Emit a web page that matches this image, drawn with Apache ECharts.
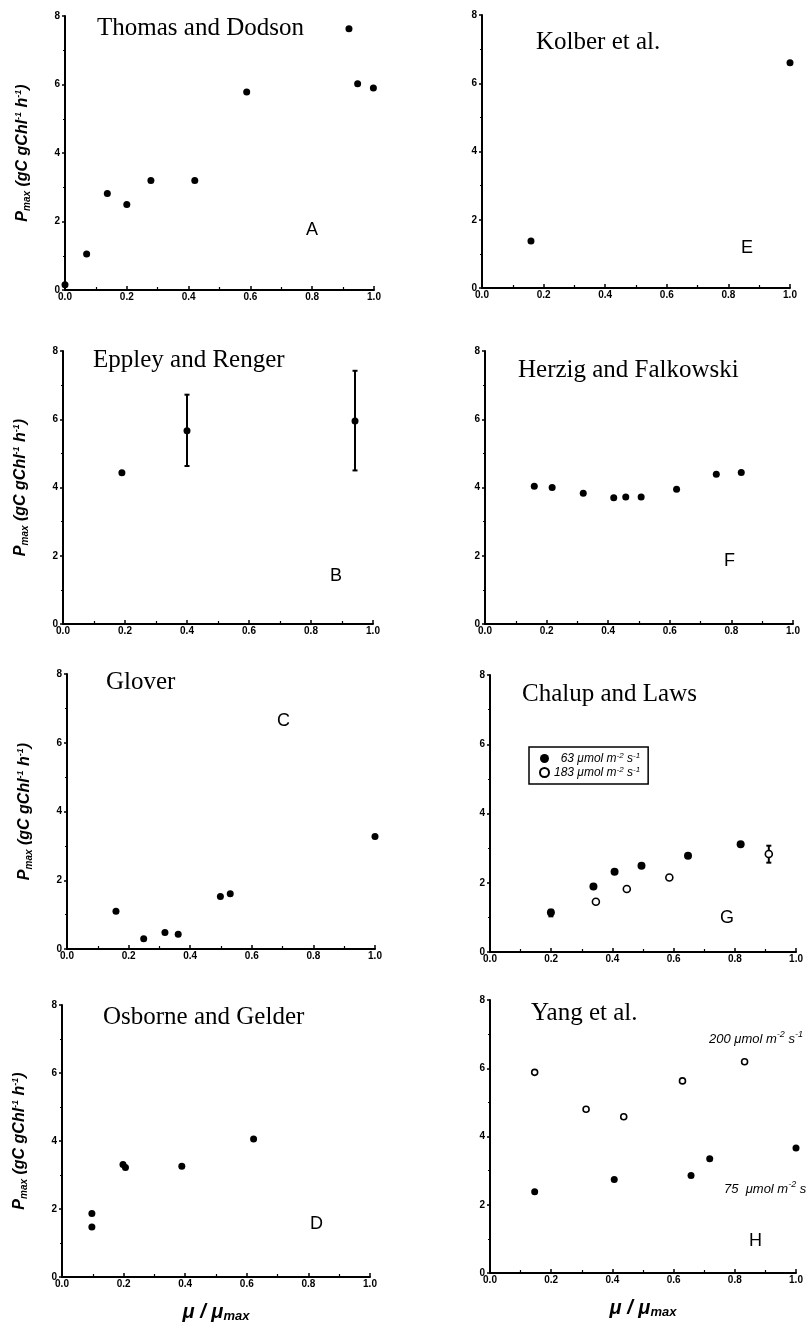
<!DOCTYPE html>
<html>
<head>
<meta charset="utf-8">
<script src="https://cdn.jsdelivr.net/npm/echarts@6/dist/echarts.min.js"></script>
<style>
html,body{margin:0;padding:0;background:#fff;}
#chart{width:806px;height:1324px;}
</style>
</head>
<body>
<div id="chart"></div>
<script>
// ---------- DATA ----------
const xTickLabels = ['0.0', '0.2', '0.4', '0.6', '0.8', '1.0'];
const yTickLabels = ['0', '2', '4', '6', '8'];

const panelTitles = ['Thomas and Dodson', 'Kolber et al.', 'Eppley and Renger', 'Herzig and Falkowski',
                     'Glover', 'Chalup and Laws', 'Osborne and Gelder', 'Yang et al.'];
const panelLetters = ['A', 'E', 'B', 'F', 'C', 'G', 'D', 'H'];

// A: Thomas and Dodson
const thomasDodson = [[0.0, 0.15], [0.07, 1.05], [0.137, 2.82], [0.2, 2.5], [0.278, 3.2], [0.42, 3.2],
                      [0.588, 5.78], [0.919, 7.63], [0.947, 6.02], [0.998, 5.9]];
// E: Kolber et al.
const kolber = [[0.159, 1.38], [1.0, 6.6]];
// B: Eppley and Renger (points, error bars [x, low, high])
const eppley = [[0.19, 4.43], [0.40, 5.66], [0.942, 5.95]];
const eppleyErr = [[0.40, 4.63, 6.72], [0.942, 4.5, 7.42]];
// F: Herzig and Falkowski
const herzig = [[0.16, 4.04], [0.218, 4.0], [0.319, 3.83], [0.418, 3.7], [0.457, 3.72], [0.507, 3.72],
                [0.622, 3.95], [0.751, 4.39], [0.832, 4.44]];
// C: Glover
const glover = [[0.159, 1.1], [0.249, 0.3], [0.318, 0.48], [0.361, 0.43], [0.498, 1.53], [0.53, 1.61], [1.0, 3.27]];
// G: Chalup and Laws
const chalup63 = [[0.199, 1.14], [0.338, 1.89], [0.407, 2.32], [0.495, 2.49], [0.647, 2.78], [0.819, 3.11]];
const chalup183 = [[0.346, 1.45], [0.447, 1.82], [0.586, 2.15], [0.911, 2.83]];
const chalupErr = [[0.199, 1.03, 1.22], [0.911, 2.58, 3.07]];
// D: Osborne and Gelder
const osborne = [[0.097, 1.87], [0.097, 1.47], [0.198, 3.31], [0.206, 3.22], [0.389, 3.26], [0.622, 4.06]];
// H: Yang et al.
const yang200 = [[0.146, 5.88], [0.314, 4.8], [0.437, 4.58], [0.629, 5.63], [0.832, 6.19]];
const yang75 = [[0.146, 2.38], [0.406, 2.74], [0.657, 2.86], [0.718, 3.35], [1.0, 3.66]];

// ---------- LAYOUT ----------
const grids = [
  {left: 65, top: 16, width: 309, height: 274},   // A
  {left: 482, top: 15, width: 308, height: 273},  // E
  {left: 63, top: 351, width: 310, height: 273},  // B
  {left: 485, top: 351, width: 308, height: 273}, // F
  {left: 67, top: 674, width: 308, height: 275},  // C
  {left: 490, top: 675, width: 307, height: 277}, // G
  {left: 62, top: 1005, width: 308, height: 272}, // D
  {left: 490, top: 1000, width: 306, height: 273} // H
];
const titlePos = [[97, 16], [536, 30], [93, 348], [518, 358], [106, 670], [522, 682], [103, 1005], [531, 1001]];
const letterPos = [[306, 221], [741, 239], [330, 567], [724, 552], [277, 712], [720, 909], [310, 1215], [749, 1232]];

const SANS = '"Liberation Sans", Arial, Helvetica, sans-serif';
const SERIF = '"Liberation Serif", "Times New Roman", serif';

const xAxes = grids.map((g, i) => ({
  type: 'value', gridIndex: i, min: 0, max: 1, interval: 0.2,
  name: (i >= 6) ? '{i|μ / μ}{sub|max}' : '',
  nameLocation: 'middle', nameGap: 24,
  nameTextStyle: {
    rich: {
      i: {fontFamily: SANS, fontStyle: 'italic', fontWeight: 'bold', fontSize: 20, color: '#000', lineHeight: 22, verticalAlign: 'middle'},
      sub: {fontFamily: SANS, fontStyle: 'italic', fontWeight: 'bold', fontSize: 13, color: '#000', lineHeight: 13, verticalAlign: 'bottom', padding: [7, 0, 0, 0]}
    }
  },
  axisLine: {lineStyle: {color: '#000', width: 2}},
  axisTick: {inside: true, length: 4, lineStyle: {color: '#000', width: 1.5}},
  minorTick: {show: true, splitNumber: 2, length: 3, lineStyle: {color: '#000', width: 1.2}},
  axisLabel: {color: '#000', fontFamily: SANS, fontWeight: 'bold', fontSize: 10, margin: 2,
              formatter: v => xTickLabels[Math.round(v / 0.2)]},
  splitLine: {show: false}
}));

const yAxes = grids.map((g, i) => ({
  type: 'value', gridIndex: i, min: 0, max: 8, interval: 2,
  name: (i % 2 === 0) ? '{i|P}{sub|max}{i| (gC gChl}{sup|-1}{i| h}{sup|-1}{i|)}' : '',
  nameLocation: 'middle', nameGap: 33, nameRotate: 90,
  nameTextStyle: {
    rich: {
      i: {fontFamily: SANS, fontStyle: 'italic', fontWeight: 'bold', fontSize: 16, color: '#000', lineHeight: 18, verticalAlign: 'middle'},
      sub: {fontFamily: SANS, fontStyle: 'italic', fontWeight: 'bold', fontSize: 10, color: '#000', lineHeight: 10, verticalAlign: 'bottom', padding: [6, 0, 0, 0]},
      sup: {fontFamily: SANS, fontStyle: 'italic', fontWeight: 'bold', fontSize: 9, color: '#000', lineHeight: 9, verticalAlign: 'top', padding: [0, 0, 6, 0]}
    }
  },
  axisLine: {lineStyle: {color: '#000', width: 2}},
  axisTick: {inside: false, length: 3, lineStyle: {color: '#000', width: 1.5}},
  minorTick: {show: true, splitNumber: 2, length: 2, lineStyle: {color: '#000', width: 1.2}},
  axisLabel: {color: '#000', fontFamily: SANS, fontWeight: 'bold', fontSize: 10, margin: 5,
              formatter: v => yTickLabels[Math.round(v / 2)]},
  splitLine: {show: false}
}));

const titles = [];
panelTitles.forEach((t, i) => {
  titles.push({text: t, left: titlePos[i][0], top: titlePos[i][1], padding: 0,
    textStyle: {fontFamily: SERIF, fontWeight: 'normal', fontSize: 25, color: '#000'}});
});
panelLetters.forEach((t, i) => {
  titles.push({text: t, left: letterPos[i][0], top: letterPos[i][1], padding: 0,
    textStyle: {fontFamily: SANS, fontWeight: 'normal', fontSize: 18, color: '#000'}});
});
const annRich = {
  t: {fontFamily: '"Liberation Sans Narrow", ' + SANS, fontStyle: 'italic', fontWeight: 'normal', fontSize: 13, color: '#000', lineHeight: 16, verticalAlign: 'bottom'},
  sup: {fontFamily: '"Liberation Sans Narrow", ' + SANS, fontStyle: 'italic', fontWeight: 'normal', fontSize: 9, color: '#000', lineHeight: 9, verticalAlign: 'top'}
};
titles.push({text: '{t|200 μmol m}{sup|-2}{t| s}{sup|-1}', left: 709, top: 1030, padding: 0, textStyle: {fontWeight: 'normal', rich: annRich}});
titles.push({text: '{t|75  μmol m}{sup|-2}{t| s}{sup|-1}', left: 724, top: 1180, padding: 0, textStyle: {fontWeight: 'normal', rich: annRich}});

function errRender(params, api) {
  const x = api.value(0), lo = api.value(1), hi = api.value(2);
  const p1 = api.coord([x, hi]), p2 = api.coord([x, lo]);
  const c = 2.5;
  const st = {stroke: '#000', lineWidth: 2};
  return {type: 'group', children: [
    {type: 'line', shape: {x1: p1[0], y1: p1[1], x2: p2[0], y2: p2[1]}, style: st},
    {type: 'line', shape: {x1: p1[0] - c, y1: p1[1], x2: p1[0] + c, y2: p1[1]}, style: st},
    {type: 'line', shape: {x1: p2[0] - c, y1: p2[1], x2: p2[0] + c, y2: p2[1]}, style: st}
  ]};
}

function filled(name, data, idx, size) {
  return {name: name, type: 'scatter', xAxisIndex: idx, yAxisIndex: idx, data: data,
    symbol: 'circle', symbolSize: size || 7, itemStyle: {color: '#000', opacity: 1}, silent: true, z: 3};
}
function open(name, data, idx, size) {
  return {name: name, type: 'scatter', xAxisIndex: idx, yAxisIndex: idx, data: data,
    symbol: 'circle', symbolSize: size || 7, itemStyle: {color: '#fff', borderColor: '#000', borderWidth: 1.6, opacity: 1}, silent: true, z: 4};
}
function errs(data, idx) {
  return {type: 'custom', xAxisIndex: idx, yAxisIndex: idx, data: data, renderItem: errRender,
    encode: {x: 0, y: [1, 2]}, silent: true, z: 2};
}

const legendRich = {
  t: {fontFamily: SANS, fontStyle: 'italic', fontSize: 12, color: '#000', lineHeight: 13, verticalAlign: 'bottom'},
  sup: {fontFamily: SANS, fontStyle: 'italic', fontSize: 8, color: '#000', lineHeight: 8, verticalAlign: 'top'}
};

const option = {
  backgroundColor: '#fff',
  animation: false,
  title: titles,
  grid: grids,
  xAxis: xAxes,
  yAxis: yAxes,
  legend: {
    data: ['63', '183'],
    left: 529, top: 747, orient: 'vertical',
    padding: [5, 8, 5, 10], itemGap: 1, itemWidth: 9, itemHeight: 9,
    borderColor: '#000', borderWidth: 1.5, icon: 'circle',
    formatter: n => '{t|' + (n === '63' ? '  63' : '183') + ' μmol m}{sup|-2}{t| s}{sup|-1}',
    textStyle: {rich: legendRich}
  },
  series: [
    filled('td', thomasDodson, 0),
    filled('kol', kolber, 1),
    errs(eppleyErr, 2),
    filled('ep', eppley, 2),
    filled('hf', herzig, 3),
    filled('gl', glover, 4),
    errs(chalupErr, 5),
    filled('63', chalup63, 5, 8),
    open('183', chalup183, 5, 7),
    filled('og', osborne, 6),
    open('y200', yang200, 7, 6),
    filled('y75', yang75, 7, 7)
  ]
};

const chart = echarts.init(document.getElementById('chart'), null, {renderer: 'canvas'});
chart.setOption(option);
</script>
</body>
</html>
